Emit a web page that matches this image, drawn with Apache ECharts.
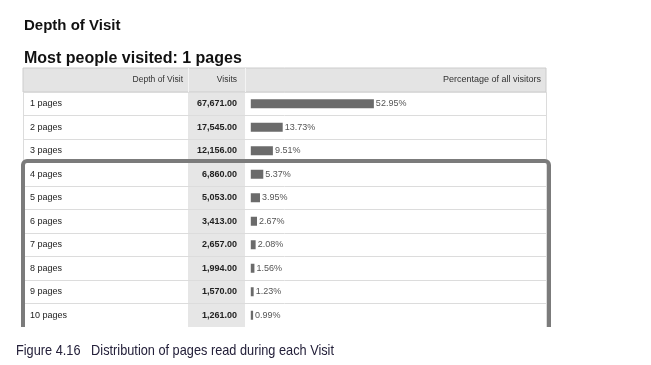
<!DOCTYPE html>
<html><head><meta charset="utf-8">
<script src="https://cdn.jsdelivr.net/npm/echarts@6/dist/echarts.min.js"></script>
<style>html,body{margin:0;padding:0;background:#fff}#c{width:651px;height:365px}</style>
</head><body><div id="c"></div>
<script>
var pages = ['1 pages','2 pages','3 pages','4 pages','5 pages','6 pages','7 pages','8 pages','9 pages','10 pages'];
var visits = [67671, 17545, 12156, 6860, 5053, 3413, 2657, 1994, 1570, 1261];
var percents = [52.95, 13.73, 9.51, 5.37, 3.95, 2.67, 2.08, 1.56, 1.23, 0.99];
var headers = ['Depth of Visit', 'Visits', 'Percentage of all visitors'];

function fmt(v){ return v.toLocaleString('en-US', {minimumFractionDigits:2, maximumFractionDigits:2}); }
var visitLabels = visits.map(fmt);

var chart = echarts.init(document.getElementById('c'), null, {renderer:'canvas'});
var F = 'Liberation Sans, Arial, sans-serif';
chart.setOption({
  animation:false,
  backgroundColor:'#fff',
  grid:{left:23, top:92, width:523, height:235},
  xAxis:{type:'value', min:-98, max:127, show:false, splitLine:{show:false}},
  yAxis:[{
    type:'category', inverse:true, data:pages,
    axisLine:{show:false}, axisTick:{show:false},
    axisLabel:{inside:true, margin:7, align:'left', color:'#222', fontFamily:F, fontSize:9},
    splitLine:{show:true, lineStyle:{color:'#dcdcdc', width:1}},
    z:5
  },{
    type:'category', inverse:true, data:visitLabels, position:'left',
    axisLine:{show:false}, axisTick:{show:false},
    axisLabel:{inside:true, margin:214, align:'right', color:'#222', fontFamily:F, fontSize:9, fontWeight:'bold'},
    splitLine:{show:false}, z:5
  }],
  series:[{
    type:'bar', yAxisIndex:0, data:percents, barWidth:9,
    itemStyle:{color:'#6b6b6b'},
    label:{show:true, position:'right', distance:2, color:'#555', fontFamily:F, fontSize:9,
      formatter:function(p){ return percents[p.dataIndex].toFixed(2) + '%'; }},
    z:3
  }],
  graphic:[
    {type:'rect', z:-10, shape:{x:188, y:92, width:57, height:235}, style:{fill:'#e6e6e6'}},
    {type:'rect', z:-10, shape:{x:23, y:68, width:523, height:24}, style:{fill:'#e4e4e4', stroke:'#cccccc', lineWidth:1}},
    {type:'line', z:-9, shape:{x1:188.5, y1:68, x2:188.5, y2:92}, style:{stroke:'#f4f4f4', lineWidth:1}},
    {type:'line', z:-9, shape:{x1:245.5, y1:68, x2:245.5, y2:92}, style:{stroke:'#f4f4f4', lineWidth:1}},
    {type:'line', z:-9, shape:{x1:23.5, y1:92, x2:23.5, y2:327}, style:{stroke:'#dcdcdc', lineWidth:1}},
    {type:'line', z:-9, shape:{x1:546.5, y1:92, x2:546.5, y2:327}, style:{stroke:'#dcdcdc', lineWidth:1}},
    {type:'text', z:20, style:{x:183, y:80, text:headers[0], textAlign:'right', textVerticalAlign:'middle', font:'8.5px '+F, fill:'#333'}},
    {type:'text', z:20, style:{x:237, y:80, text:headers[1], textAlign:'right', textVerticalAlign:'middle', font:'8.5px '+F, fill:'#333'}},
    {type:'text', z:20, style:{x:541, y:80, text:headers[2], textAlign:'right', textVerticalAlign:'middle', font:'9px '+F, fill:'#333'}},
    {type:'text', z:20, style:{x:24, y:26, text:'Depth of Visit', textVerticalAlign:'middle', font:'bold 15px '+F, fill:'#111'}},
    {type:'text', z:20, style:{x:24, y:59, text:'Most people visited: 1 pages', textVerticalAlign:'middle', font:'bold 16px '+F, fill:'#111'}},
    {type:'rect', z:30, shape:{x:23, y:161, width:526, height:176, r:4}, style:{fill:'none', stroke:'#7b7b7b', lineWidth:4}},
    {type:'rect', z:31, shape:{x:0, y:327, width:651, height:14}, style:{fill:'#fff'}},
    {type:'text', z:40, x:16, y:351, scaleX:0.85, style:{x:0, y:0, text:'Figure 4.16   Distribution of pages read during each Visit', textVerticalAlign:'middle', font:'15px Liberation Sans, sans-serif', fill:'#24203a'}}
  ]
});
</script></body></html>
